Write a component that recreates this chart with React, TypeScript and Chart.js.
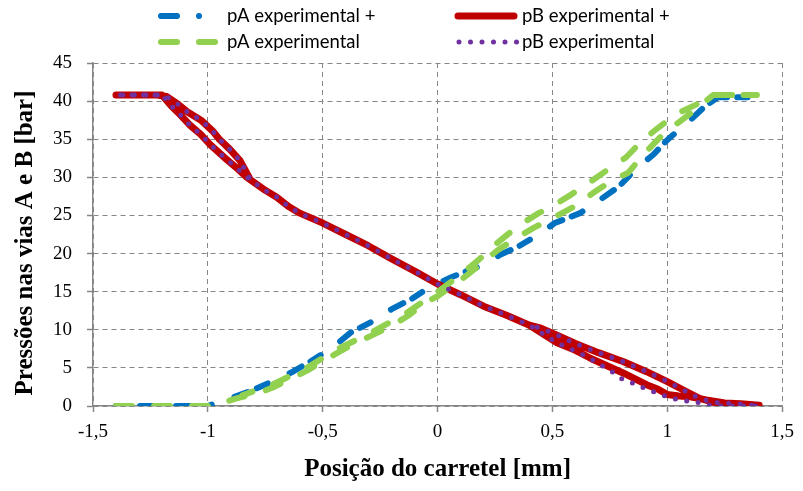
import { useEffect, useRef } from "react";
import { Chart, registerables } from "chart.js";

Chart.register(...registerables);

// ---- Spool position [mm] / port pressure [bar] ----

// pA experimental +
const pAPlusPos = [
  -1.4, -1.0, -0.93, -0.82, -0.72, -0.63, -0.55, -0.46, -0.38, -0.29, -0.2, -0.11, -0.04, 0.06, 0.18, 0.27,
  0.35, 0.44, 0.51, 0.62, 0.7, 0.79, 0.86, 0.94, 1.0, 1.1, 1.16, 1.22, 1.35, 1.22,
];
const pAPlusBar = [
  0, 0, 0.7, 1.9, 3.2, 4.5, 5.9, 7.6, 9.6, 11.0, 12.7, 14.1, 15.5, 16.9, 18.3, 19.8,
  20.9, 22.5, 24.0, 25.3, 26.9, 28.8, 31.0, 33.0, 34.9, 37.5, 39.2, 40.5, 40.5, 40.5,
];

// pB experimental +
const pBPlusPos = [
  -0.82, -0.86, -0.905, -0.95, -0.98, -1.03, -1.09, -1.13, -1.18, -1.22, -1.3, -1.4,
  -1.3, -1.2, -1.16, -1.12, -1.08, -1.03, -0.99, -0.92, -0.87, -0.83, -0.75, -0.7, -0.65, -0.6, -0.5, -0.4,
  -0.3, -0.2, -0.1, 0.0, 0.1, 0.2, 0.3, 0.4,
  0.52, 0.6, 0.67, 0.81, 0.91, 0.96, 1.0, 1.05, 1.1, 1.17, 1.25, 1.32, 1.4,
  1.3, 1.2, 1.14, 1.07, 1.0, 0.91, 0.81, 0.7, 0.6, 0.52, 0.45, 0.4,
];
const pBPlusBar = [
  30.0, 32.2, 33.7, 35.0, 36.1, 37.5, 38.6, 39.6, 40.6, 40.8, 40.8, 40.8,
  40.8, 40.8, 39.4, 38.2, 36.9, 35.6, 34.3, 32.4, 31.1, 30.0, 28.3, 27.4, 26.2, 25.3, 24.0, 22.5,
  21.0, 19.3, 17.7, 16.0, 14.6, 13.1, 11.9, 10.6,
  8.3, 7.3, 6.2, 4.3, 2.8, 2.2, 1.5, 1.3, 1.2, 0.8, 0.4, 0.3, 0.1,
  0.3, 0.5, 1.0, 2.1, 3.2, 4.5, 5.8, 7.0, 8.2, 9.3, 10.2, 10.6,
];

// pA experimental
const pAPos = [
  -1.4, -1.0, -0.93, -0.875, -0.76, -0.72, -0.63, -0.57, -0.515, -0.44, -0.37, -0.29, -0.2, -0.13, -0.05, 0.0,
  0.1, 0.18, 0.26, 0.34, 0.42, 0.51, 0.59, 0.675, 0.75, 0.83, 0.9, 0.97, 1.04, 1.12, 1.2, 1.39,
  1.2, 1.13, 1.04, 0.96, 0.89, 0.82, 0.75, 0.66, 0.58, 0.5, 0.44, 0.35, 0.26, 0.18, 0.1, 0.0, -0.13, -0.29,
  -0.44, -0.57, -0.72, -0.85,
];
const pABar = [
  0, 0, 0.5, 1.0, 1.9, 2.4, 3.7, 4.6, 5.6, 6.9, 8.1, 9.2, 10.5, 11.8, 13.6, 14.4,
  16.5, 18.4, 20.4, 22.0, 23.4, 24.8, 26.1, 27.9, 29.4, 30.6, 33.1, 35.3, 37.0, 38.8, 40.8, 40.8,
  40.8, 39.6, 38.3, 36.5, 34.8, 32.6, 31.2, 29.3, 27.7, 26.2, 25.3, 23.6, 21.4, 19.2, 17.2, 15.0, 12.3, 9.6,
  7.4, 5.0, 2.8, 1.4,
];

// pB experimental
const pBPos = [
  -0.82, -0.86, -0.905, -0.95, -0.98, -1.03, -1.09, -1.13, -1.18, -1.22, -1.3, -1.4,
  -1.3, -1.2, -1.16, -1.12, -1.08, -1.03, -0.99, -0.92, -0.87, -0.83, -0.75, -0.7, -0.65, -0.6, -0.5, -0.4,
  -0.3, -0.2, -0.1, 0.0, 0.1, 0.2, 0.3, 0.4,
  0.52, 0.6, 0.66, 0.71, 0.76, 0.805, 0.86, 0.91, 0.965, 1.02, 1.07, 1.13, 1.19, 1.24, 1.32, 1.4,
  1.3, 1.2, 1.14, 1.07, 1.0, 0.91, 0.81, 0.7, 0.6, 0.52, 0.45, 0.4,
];
const pBBar = [
  30.0, 32.2, 33.7, 35.0, 36.1, 37.5, 38.6, 39.6, 40.6, 40.8, 40.8, 40.8,
  40.8, 40.8, 39.4, 38.2, 36.9, 35.6, 34.3, 32.4, 31.1, 30.0, 28.3, 27.4, 26.2, 25.3, 24.0, 22.5,
  21.0, 19.3, 17.7, 16.0, 14.6, 13.1, 11.9, 10.6,
  8.3, 7.2, 6.3, 5.4, 4.5, 3.5, 2.9, 2.2, 1.6, 1.0, 0.7, 0.5, 0.1, 0.0, 0.0, 0.0,
  0.3, 0.5, 1.0, 2.1, 3.2, 4.5, 5.8, 7.0, 8.2, 9.3, 10.2, 10.6,
];

const xTickValues = [-1.5, -1, -0.5, 0, 0.5, 1, 1.5];
const xTickLabels = ["-1,5", "-1", "-0,5", "0", "0,5", "1", "1,5"];
const yTickValues = [0, 5, 10, 15, 20, 25, 30, 35, 40, 45];

const seriesNames = ["pA experimental +", "pB experimental +", "pA experimental", "pB experimental"];
const xTitle = "Posição do carretel [mm]";
const yTitle = "Pressões nas vias A e B [bar]";

const BLUE = "#0070C0";
const RED = "#C00000";
const GREEN = "#92D050";
const PURPLE = "#7030A0";
const AXIS = "#868686";

const DASH_DOT_KEY = [16, 22, 0, 22];
const DASH_DOT_LINE = [14, 10, 12, 24];
const DASH = [16, 22];
const DOTS = [0, 11.5];

const toPoints = (xs: number[], ys: number[]) => xs.map((x, i) => ({ x, y: ys[i] }));

// Legend (two columns) and axis titles drawn on the canvas
const decorations = {
  id: "decorations",
  afterDraw(chart: Chart) {
    const ctx = chart.ctx;
    const area = chart.chartArea;
    const items = [
      { name: seriesNames[0], color: BLUE, width: 6, dash: DASH_DOT_KEY, x0: 161, x1: 200, tx: 227, y: 16 },
      { name: seriesNames[1], color: RED, width: 7, dash: [] as number[], x0: 458, x1: 514, tx: 522, y: 16 },
      { name: seriesNames[2], color: GREEN, width: 6, dash: DASH, x0: 161, x1: 215, tx: 227, y: 42 },
      { name: seriesNames[3], color: PURPLE, width: 5, dash: DOTS, x0: 459, x1: 517, tx: 522, y: 42 },
    ];
    ctx.save();
    for (const it of items) {
      ctx.beginPath();
      ctx.lineWidth = it.width;
      ctx.strokeStyle = it.color;
      ctx.lineCap = "round";
      ctx.setLineDash(it.dash);
      ctx.moveTo(it.x0, it.y);
      ctx.lineTo(it.x1, it.y);
      ctx.stroke();
      ctx.setLineDash([]);
      ctx.fillStyle = "#000";
      ctx.font = "18.5px Lato";
      ctx.textAlign = "left";
      ctx.textBaseline = "middle";
      ctx.fillText(it.name, it.tx, it.y);
    }

    ctx.font = "bold 25px 'Liberation Serif'";
    ctx.fillStyle = "#000";
    ctx.textAlign = "center";
    ctx.textBaseline = "middle";
    ctx.fillText(xTitle, (area.left + area.right) / 2, 470);

    ctx.translate(26, 243);
    ctx.rotate(-Math.PI / 2);
    ctx.fillText(yTitle, 0, 0);
    ctx.restore();
  },
};

export default function App() {
  const canvasRef = useRef<HTMLCanvasElement | null>(null);

  useEffect(() => {
    const canvas = canvasRef.current;
    if (!canvas) return;

    const lineBase = {
      showLine: true,
      pointRadius: 0,
      pointHoverRadius: 0,
      tension: 0,
      fill: false,
      borderCapStyle: "round" as const,
      borderJoinStyle: "round" as const,
    };

    const chart = new Chart(canvas, {
      type: "scatter",
      data: {
        datasets: [
          { ...lineBase, label: seriesNames[0], data: toPoints(pAPlusPos, pAPlusBar), borderColor: BLUE, borderWidth: 6, borderDash: DASH_DOT_LINE, order: 4 },
          { ...lineBase, label: seriesNames[1], data: toPoints(pBPlusPos, pBPlusBar), borderColor: RED, borderWidth: 7, order: 3 },
          { ...lineBase, label: seriesNames[2], data: toPoints(pAPos, pABar), borderColor: GREEN, borderWidth: 6, borderDash: DASH, order: 2 },
          { ...lineBase, label: seriesNames[3], data: toPoints(pBPos, pBBar), borderColor: PURPLE, borderWidth: 5, borderDash: DOTS, order: 1 },
        ],
      },
      options: {
        animation: false,
        responsive: false,
        devicePixelRatio: 1,
        layout: { padding: { top: 63, right: 18, left: 0, bottom: 0 } },
        plugins: { legend: { display: false }, tooltip: { enabled: false } },
        scales: {
          x: {
            type: "linear",
            min: -1.5,
            max: 1.5,
            afterBuildTicks: (s: any) => {
              s.ticks = xTickValues.map((v) => ({ value: v }));
            },
            afterFit: (s: any) => {
              s.height = 85;
            },
            ticks: {
              autoSkip: false,
              maxRotation: 0,
              padding: 9,
              color: "#000",
              font: { family: "'Liberation Serif'", size: 19 },
              callback: (v: any) => xTickLabels[xTickValues.indexOf(Number(v))] ?? "",
            },
            grid: { color: AXIS, lineWidth: 1, tickLength: 6, tickColor: AXIS, tickWidth: 1.5 },
            border: { display: true, color: AXIS, width: 1.5, dash: [5, 4] },
          },
          y: {
            type: "linear",
            min: 0,
            max: 45,
            afterBuildTicks: (s: any) => {
              s.ticks = yTickValues.map((v) => ({ value: v }));
            },
            afterFit: (s: any) => {
              s.width = 93;
            },
            ticks: {
              padding: 15,
              color: "#000",
              font: { family: "'Liberation Serif'", size: 19 },
              callback: (v: any) => String(v),
            },
            grid: { color: AXIS, lineWidth: 1, tickLength: 6, tickColor: AXIS, tickWidth: 1.5 },
            border: { display: true, color: AXIS, width: 1.5, dash: [5, 4] },
          },
        },
      },
      plugins: [decorations],
    });

    return () => chart.destroy();
  }, []);

  return (
    <div style={{ position: "fixed", left: 0, top: 0, width: 803, height: 491, background: "#fff" }}>
      <canvas ref={canvasRef} width={803} height={491} style={{ display: "block" }} />
    </div>
  );
}
